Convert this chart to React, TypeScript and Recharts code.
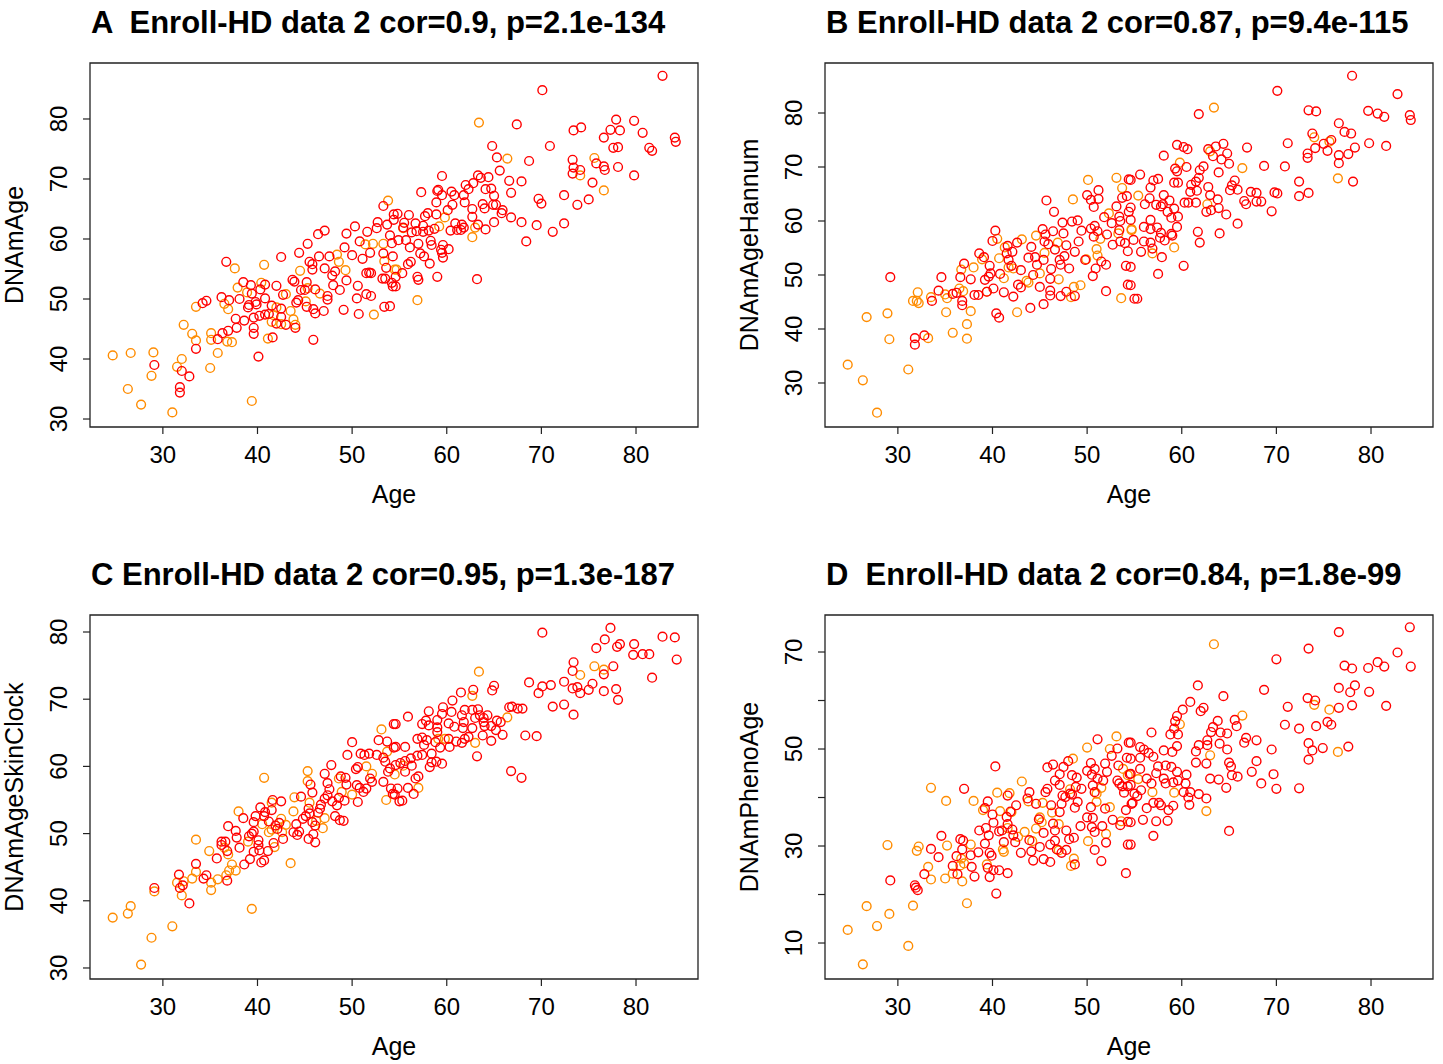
import { ScatterChart, Scatter, XAxis, YAxis, Label, ReferenceArea } from "recharts";

const FONT = "'Liberation Sans', Arial, Helvetica, sans-serif";
const RED = "#ff0000";
const ORANGE = "#ff8c00";

const ageTicks = [30, 40, 50, 60, 70, 80];
const ageDomain: [number, number] = [22.3, 86.55];

// A: DNAmAge
const aRed = [
  [29.1,39.0],[32.0,38.0],[31.8,35.3],[31.8,34.4],[32.8,37.1],[33.5,41.7],[34.2,49.3],[34.6,49.7],[35.8,43.3],[36.3,44.3],[36.9,44.7],[36.2,50.3],[36.7,56.2],[37.0,49.8],[37.7,46.7],[37.8,45.2],[38.1,50.0],[38.6,46.4],[38.5,52.8],[39.3,52.3],[39.4,50.9],[39.1,49.0],[39.0,48.6],[39.6,46.9],[39.6,45.2],[39.6,44.2],[40.1,40.4],[39.8,49.5],[39.9,49.1],[40.3,51.6],[40.8,52.4],[40.8,50.1],[40.2,47.2],[40.8,47.4],[41.2,47.5],[42.0,45.9],[41.6,43.6],[41.5,48.9],[42.5,48.4],[42.5,47.0],[43.0,45.7],[44.0,45.2],[42.0,52.2],[42.5,57.0],[42.7,50.7],[43.7,53.2],[43.9,52.9],[44.1,49.4],[44.3,49.8],[44.4,57.7],[45.2,48.7],[44.6,51.5],[45.0,51.5],[45.2,52.8],[45.3,59.2],[45.9,43.2],[45.9,48.3],[46.1,47.6],[46.1,51.6],[45.5,56.2],[45.8,55.8],[45.8,54.9],[46.4,60.8],[47.1,61.4],[46.5,57.1],[47.0,48.0],[47.1,55.1],[47.4,50.5],[47.4,49.9],[47.6,57.1],[47.9,53.9],[48.0,52.3],[48.2,54.6],[48.7,51.5],[49.1,48.2],[49.2,58.6],[49.4,53.1],[49.4,60.9],[50.3,62.1],[50.0,57.3],[50.5,50.1],[50.6,52.2],[50.7,47.5],[50.8,59.6],[51.1,56.7],[51.6,61.2],[51.9,57.7],[51.5,54.3],[51.8,54.4],[52.0,54.3],[51.5,50.8],[52.0,50.5],[52.6,61.8],[52.7,62.8],[53.3,65.5],[53.7,62.4],[54.0,60.6],[53.4,48.7],[54.0,48.8],[53.3,57.6],[53.6,55.2],[53.5,53.4],[53.2,53.4],[54.2,52.7],[54.3,52.1],[54.4,64.1],[54.4,63.2],[54.2,59.3],[54.3,57.1],
  [82.8,87.2],[70.1,84.8],[67.4,79.1],[64.8,75.5],[70.9,75.5],[65.3,73.6],[68.7,73.0],[65.6,71.4],[66.6,69.7],[67.9,69.6],[66.8,67.7],[59.5,70.5],[63.3,70.6],[63.6,70.2],[64.4,70.3],[62.8,69.3],[62.0,69.0],[62.3,68.3],[64.1,68.3],[64.7,68.4],[65.0,67.2],[59.1,68.2],[59.0,68.0],[59.5,67.3],[60.5,67.9],[60.8,67.3],[61.8,67.3],[61.9,66.1],[57.3,67.8],[58.9,66.1],[60.6,65.7],[60.1,64.8],[62.7,65.0],[63.8,65.8],[64.0,65.1],[64.9,65.7],[65.2,65.7],[65.9,64.8],[65.8,64.3],[62.7,63.7],[66.8,63.6],[67.9,62.8],[65.0,62.8],[64.1,61.6],[63.3,62.4],[63.2,53.3],[69.7,66.7],[70.0,65.9],[69.5,62.3],[71.2,61.2],[68.4,59.6],[72.4,62.6],[72.4,67.3],[73.8,65.7],[75.0,66.6],[75.4,69.4],[73.3,73.2],[73.4,71.9],[73.3,70.9],[74.1,71.5],[75.8,72.6],[76.6,72.1],[76.7,71.5],[78.1,72.0],[79.8,70.6],[73.4,78.1],[74.2,78.6],[76.6,76.9],[77.3,78.2],[77.9,79.9],[78.3,78.1],[77.6,75.2],[78.1,75.3],[79.8,79.7],[80.7,77.7],[81.4,75.2],[81.7,74.7],[84.1,76.9],[84.2,76.2],
  [54.8,64.2],[56.0,64.0],[55.5,62.7],[55.4,61.9],[56.3,61.1],[56.7,62.6],[57.5,62.2],[57.7,63.8],[58.0,64.3],[58.9,64.1],[57.5,61.2],[56.8,61.3],[58.1,61.4],[58.7,61.7],[60.4,61.4],[60.9,62.6],[61.1,61.5],[61.5,61.5],[61.6,62.4],[61.8,61.9],[54.9,59.8],[55.7,59.8],[56.1,58.6],[57.0,59.2],[58.3,59.7],[58.4,59.0],[59.6,59.0],[60.2,58.3],[59.4,58.2],[59.5,57.7],[59.6,56.9],[57.2,57.6],[57.6,57.1],[58.2,55.9],[55.9,55.8],[56.2,56.2],[55.3,54.3],[54.6,53.7],[56.9,53.7],[57.0,53.2],[59.0,53.7],[54.6,52.1],
];
const aOrange = [
  [24.7,40.6],[26.3,35.0],[26.6,41.0],[27.7,32.4],[29.0,41.1],[28.8,37.2],[31.0,31.1],[31.5,38.7],[32.0,40.0],[32.2,45.7],[33.1,44.2],[33.5,43.1],[33.5,48.7],[35.0,38.5],[35.1,44.3],[35.1,43.2],[35.8,41.0],[36.8,42.9],[37.3,42.8],[36.5,49.2],[36.9,48.3],[37.6,55.1],[37.9,51.9],[38.9,51.1],[39.4,33.0],[40.4,52.7],[40.7,55.7],[41.7,47.3],[41.5,46.2],[41.1,43.4],[42.0,48.6],[42.5,45.8],[43.5,48.0],[43.8,46.6],[44.0,45.7],[43.0,50.8],[44.5,54.7],[45.3,51.8],[45.1,49.6],[46.6,50.9],[48.4,57.4],[48.6,56.2],[49.3,54.8],[51.4,59.1],[52.2,59.2],[52.3,47.4],[53.8,66.4],[53.3,59.2],[53.4,56.3],[54.5,54.9],
  [63.4,79.4],[66.4,73.4],[63.0,61.9],[62.7,60.3],[76.6,68.1],[74.1,70.6],[75.6,73.5],[55.4,61.8],[59.8,63.6],[59.2,62.1],[54.7,54.9],[56.9,49.8],
];

// B: DNAmAgeHannum
const bRed = [
  [29.2,49.6],[31.8,38.3],[31.8,37.1],[32.8,38.8],[33.6,45.2],[34.3,47.1],[34.6,49.6],[35.8,46.5],[36.2,46.7],[36.6,49.6],[37.0,52.1],[36.8,45.2],[36.8,44.4],[37.7,49.2],[38.1,46.3],[38.5,46.3],[38.6,54.0],[39.1,53.3],[39.4,46.9],[39.2,49.1],[39.6,49.7],[39.7,51.7],[39.8,50.3],[40.1,47.5],[40.0,56.3],[40.3,58.2],[40.4,42.9],[40.7,42.1],[40.8,50.2],[41.2,46.8],[41.6,55.4],[41.5,54.0],[41.7,52.8],[42.0,51.7],[42.1,54.3],[42.6,56.0],[43.0,50.9],[42.2,46.0],[42.7,48.2],[43.0,47.7],[44.0,43.9],[44.1,55.2],[43.8,53.2],[44.3,50.0],[44.5,53.3],[44.7,51.9],[45.0,47.8],[45.4,44.6],[45.3,58.5],[45.6,57.5],[45.5,56.2],[45.4,52.8],[45.7,63.8],[45.9,55.7],[46.2,51.1],[46.1,49.3],[46.1,47.1],[46.1,46.2],[46.4,58.1],[46.5,61.7],[46.6,54.7],[47.1,52.8],[47.2,51.9],[47.2,46.1],[47.4,59.7],[47.5,57.7],[47.6,53.5],[47.8,46.9],[48.7,46.1],[48.1,51.2],[47.8,55.5],[48.4,59.9],[49.0,60.1],[48.7,54.3],[49.1,56.2],[49.4,58.2],[50.0,64.8],[50.4,63.9],[50.7,62.6],[51.2,65.7],[51.2,64.1],[50.4,58.6],[50.8,59.1],[51.1,58.1],[50.7,57.1],[51.5,52.5],[52.0,51.9],[50.9,51.2],[50.6,49.8],[49.8,52.8],[52.0,47.0],[51.8,60.7],[52.1,57.5],[52.6,59.6],[52.7,55.6],[53.1,62.7],[54.4,67.7],[53.7,64.3],[54.2,64.6],[53.4,60.8],[53.5,60.0],[53.5,56.2],[53.4,58.3],[54.0,55.9],[54.3,54.4],[54.1,51.7],[54.3,48.2],[55.0,45.6],[54.4,61.7],[54.6,60.2],
  [78.0,86.9],[70.1,84.1],[61.8,79.8],[73.4,80.5],[74.2,80.3],[79.7,80.4],[80.7,79.9],[81.4,79.3],[82.8,83.5],[84.1,79.6],[84.2,78.7],[76.6,78.1],[77.2,76.5],[77.9,76.2],[73.8,76.2],[75.8,75.0],[75.0,74.3],[75.4,73.0],[74.1,73.5],[73.3,72.5],[73.3,71.7],[76.6,72.2],[76.6,70.7],[77.6,72.4],[78.3,73.6],[79.8,74.4],[81.6,73.9],[78.1,67.3],[71.2,74.4],[70.9,70.1],[68.7,70.2],[72.4,67.3],[72.4,64.6],[73.4,65.2],[69.8,65.3],[70.1,65.1],[69.5,61.8],[66.9,73.6],[59.5,74.1],[60.2,73.7],[60.6,73.3],[62.8,73.3],[63.6,73.8],[64.4,74.3],[64.8,72.5],[65.0,70.6],[63.3,72.0],[64.2,71.4],[58.1,72.1],[60.5,70.0],[59.3,69.7],[59.5,69.2],[62.3,70.1],[61.9,69.4],[63.9,69.0],[61.8,68.0],[61.5,67.3],[61.0,66.7],[60.9,65.4],[61.6,65.6],[62.8,66.3],[63.0,64.8],[63.8,64.0],[65.6,67.5],[65.3,66.6],[65.1,65.7],[65.9,65.8],[67.3,65.4],[67.9,65.2],[67.9,63.6],[68.4,63.6],[66.6,63.7],[66.8,63.1],[64.7,61.2],[65.9,59.5],[64.0,57.7],[63.9,62.4],[63.1,62.0],[62.6,61.7],[60.3,63.4],[60.7,63.4],[61.5,63.4],[61.7,58.0],[61.9,56.0],[60.2,51.7],
  [55.6,68.6],[57.0,67.5],[57.5,67.8],[56.7,66.2],[59.2,67.1],[59.6,67.1],[58.1,64.8],[58.7,63.8],[59.2,62.3],[58.5,61.7],[57.8,62.7],[58.0,63.1],[57.3,63.0],[56.6,64.2],[56.1,63.1],[54.6,62.5],[54.6,67.6],[58.9,60.6],[59.6,60.8],[56.7,60.2],[56.0,58.9],[56.7,58.5],[57.4,58.8],[57.8,57.8],[57.7,56.9],[58.9,57.6],[59.0,57.3],[59.5,58.9],[58.2,56.4],[56.7,56.0],[56.0,56.2],[54.9,56.5],[55.7,54.3],[56.9,54.9],[57.9,53.3],[57.5,50.2],[54.6,51.5],[54.6,48.1],[55.3,45.6],
];
const bOrange = [
  [24.7,33.4],[26.3,30.5],[27.8,24.5],[26.7,42.2],[28.9,42.9],[29.1,38.1],[31.1,32.5],[31.6,45.2],[32.1,46.8],[32.0,45.2],[32.2,44.8],[33.2,38.3],[33.5,45.9],[35.0,46.4],[35.2,45.7],[35.1,43.1],[35.8,39.3],[36.5,47.5],[36.9,47.0],[36.7,51.0],[37.3,40.9],[37.3,38.2],[37.7,43.3],[38.0,51.4],[38.9,52.9],[39.4,46.9],[40.5,56.7],[40.7,53.1],[41.2,49.4],[41.3,55.1],[41.7,51.4],[42.2,51.2],[43.1,56.6],[42.6,43.1],[43.6,48.9],[43.8,48.6],[44.6,57.3],[45.0,50.3],[45.5,54.1],[46.9,56.0],[47.0,49.2],[48.3,45.9],[48.6,47.8],[49.3,48.1],[48.5,64.0],[50.1,67.6],[51.0,54.8],[51.1,53.6],[49.9,52.9],[51.4,56.7],[52.3,61.4],[53.1,68.0],[53.7,66.1],[53.3,57.7],[53.6,45.7],[54.7,58.3],
  [63.4,81.0],[74.0,75.5],[75.6,74.7],[76.5,67.9],[66.4,69.8],[63.0,72.9],[59.8,70.8],[62.7,63.1],[55.4,64.7],[54.7,58.5],[56.9,54.0],[59.2,55.1],
];

// C: DNAmAgeSkinClock
const cRed = [
  [29.1,41.9],[32.8,39.6],[31.7,43.9],[31.8,41.9],[32.1,42.3],[33.5,45.5],[34.3,43.3],[34.6,43.8],[35.7,46.3],[36.2,48.8],[36.6,48.8],[36.2,48.3],[36.8,47.4],[36.8,43.0],[36.9,51.1],[37.7,50.4],[37.8,49.4],[38.5,52.3],[38.1,47.9],[38.6,45.4],[39.2,46.2],[39.6,47.3],[39.1,49.6],[39.4,50.0],[39.6,50.3],[39.6,51.7],[39.8,52.6],[40.1,49.0],[40.1,48.3],[40.2,47.5],[40.4,45.7],[40.7,46.0],[40.3,53.9],[40.8,53.2],[40.7,52.6],[41.2,51.8],[41.5,53.5],[41.6,55.0],[41.1,47.4],[41.7,48.6],[41.9,51.2],[42.1,50.7],[42.3,51.6],[42.5,54.8],[42.7,49.2],[43.8,50.2],[44.2,49.8],[44.4,50.3],[44.6,55.5],[44.1,51.4],[44.8,52.2],[45.1,52.6],[45.6,57.3],[45.8,56.1],[45.4,53.7],[45.5,53.0],[45.4,49.2],[45.9,49.9],[46.1,48.7],[45.8,51.7],[46.1,51.2],[46.6,53.7],[46.4,53.1],[46.7,54.3],[47.1,55.2],[47.1,58.9],[47.4,57.5],[47.6,56.6],[47.4,55.7],[47.8,60.2],[47.9,54.8],[48.4,54.2],[48.6,55.3],[48.2,52.6],[48.8,58.5],[49.3,58.3],[49.4,57.3],[48.7,52.0],[49.1,51.9],[49.2,54.9],[50.0,63.6],[49.5,61.7],[50.4,59.6],[50.6,59.9],[50.5,57.2],[50.8,56.8],[50.9,61.9],[51.3,61.7],[50.6,54.7],[51.8,61.9],[51.2,56.2],[51.5,56.7],[52.1,57.7],[51.9,58.2],[52.6,61.7],[52.8,63.9],[54.4,66.3],[53.7,63.7],[53.3,61.3],[53.5,60.7],[54.4,62.8],[54.0,59.7],[53.8,59.2],[53.3,57.7],[54.3,55.9],[54.1,56.7],[54.6,60.2],[55.0,54.8],
  [70.1,79.9],[77.3,80.6],[76.7,78.9],[75.8,77.6],[78.0,77.8],[78.3,78.2],[79.8,78.2],[79.7,76.6],[80.7,76.7],[81.4,76.7],[82.8,79.3],[84.1,79.2],[84.3,75.9],[81.7,73.2],[76.6,73.7],[77.6,74.9],[73.4,75.5],[73.3,74.2],[73.8,71.8],[73.3,71.6],[74.1,70.9],[75.0,71.4],[75.4,72.3],[76.6,71.2],[77.9,71.5],[78.1,69.9],[72.4,72.6],[72.4,69.2],[73.4,67.7],[71.2,68.9],[71.0,72.1],[70.1,71.9],[69.7,70.9],[68.7,72.5],[68.3,64.6],[69.5,64.5],[66.8,59.3],[67.9,58.3],[62.8,71.4],[64.8,71.3],[65.0,72.0],[61.5,71.0],[60.6,69.8],[59.6,68.8],[58.1,68.2],[55.9,67.4],[54.6,66.3],[60.5,68.1],[59.5,67.8],[59.0,66.9],[57.4,66.3],[57.8,66.8],[58.1,66.1],[59.0,65.8],[59.0,65.1],[60.2,66.4],[60.8,65.9],[61.9,68.4],[61.6,67.6],[61.8,66.6],[61.7,65.7],[62.7,68.4],[63.3,68.5],[63.0,67.2],[63.5,67.6],[63.9,67.2],[64.3,67.6],[63.9,66.6],[64.0,66.0],[64.7,66.0],[65.3,66.8],[65.7,66.6],[65.2,65.4],[65.9,64.7],[66.6,68.8],[66.9,68.9],[67.5,68.6],[68.0,68.6],[63.8,64.6],[64.7,63.8],[62.7,65.7],[62.3,64.4],[61.9,64.1],[61.6,63.5],[61.0,63.7],[60.2,64.1],[58.8,63.6],[59.3,62.8],[60.3,62.9],[63.2,61.5],
  [56.9,64.1],[57.4,64.3],[57.9,63.9],[57.6,63.2],[55.6,62.9],[54.6,62.9],[57.4,61.7],[58.4,61.9],[56.9,61.6],[56.2,61.2],[55.6,60.8],[55.1,60.5],[56.3,60.1],[58.4,60.6],[58.2,59.9],[58.9,60.7],[59.5,60.4],[55.6,59.2],[56.7,58.2],[57.0,58.5],[55.9,56.8],[56.5,55.9],[54.8,56.7],[54.5,55.8],[55.3,54.9],
];
const cOrange = [
  [24.7,37.5],[26.3,38.1],[26.6,39.2],[27.7,30.5],[28.8,34.5],[29.1,41.4],[31.0,36.2],[31.5,42.7],[32.0,40.8],[32.2,42.9],[33.1,43.3],[33.5,44.3],[33.5,49.1],[35.1,41.6],[35.1,42.7],[34.9,47.4],[35.8,43.2],[36.5,47.9],[36.9,46.9],[36.7,43.8],[37.0,44.5],[37.3,45.4],[37.7,44.5],[38.0,53.3],[39.0,48.8],[39.4,38.8],[40.5,51.4],[40.7,58.3],[41.5,54.6],[41.2,50.2],[41.8,48.0],[41.5,50.6],[42.5,52.2],[42.6,50.2],[43.0,51.3],[43.5,45.6],[43.8,53.3],[43.9,55.4],[45.3,59.3],[45.3,57.8],[45.5,54.6],[46.2,51.9],[46.9,50.8],[47.1,52.3],[48.6,58.2],[48.9,56.2],[50.0,55.8],[51.5,60.0],[52.1,58.9],[53.1,65.5],[53.7,62.2],[53.6,55.0],
  [75.6,74.9],[76.6,74.4],[74.1,73.6],[63.4,74.1],[62.7,70.5],[66.4,67.3],[59.8,64.1],[59.1,64.1],[63.0,63.5],[55.4,60.1],[54.5,58.8],[57.0,56.8],
];

// D: DNAmPhenoAge
const dRed = [
  [29.2,22.9],[31.8,21.9],[31.9,21.4],[32.1,20.9],[33.5,29.4],[32.8,24.2],[34.3,27.7],[34.6,32.1],[35.8,25.9],[36.2,27.9],[36.3,24.2],[36.6,31.4],[36.9,31.1],[36.8,29.3],[37.0,41.8],[37.7,28.1],[37.8,25.7],[38.1,23.7],[38.5,28.7],[38.6,33.2],[39.2,30.5],[39.2,37.8],[39.3,33.7],[39.5,25.5],[39.7,23.6],[39.7,28.6],[39.9,28.0],[39.6,32.2],[39.5,39.2],[40.0,36.5],[40.1,34.8],[40.1,25.0],[40.3,46.4],[40.4,20.2],[40.7,25.0],[40.7,33.0],[41.0,33.2],[41.2,30.8],[41.5,36.0],[41.6,34.5],[41.6,24.4],[41.6,40.4],[41.9,37.1],[42.1,33.4],[42.4,30.8],[42.2,32.2],[42.5,38.4],[43.0,28.6],[43.7,39.8],[43.9,41.1],[43.9,31.2],[44.1,28.9],[44.3,27.0],[44.6,38.7],[44.9,35.5],[45.0,29.8],[45.4,27.3],[45.4,32.7],[45.6,41.1],[45.8,41.8],[45.8,46.2],[46.4,46.8],[46.1,26.7],[46.1,30.3],[46.2,38.4],[46.4,34.6],[46.6,33.2],[46.6,31.1],[46.8,29.3],[47.3,28.6],[47.8,29.2],[47.1,37.0],[47.3,38.7],[47.4,40.4],[47.7,40.1],[47.1,42.6],[46.6,43.5],[47.1,44.8],[47.5,46.3],[48.0,47.5],[48.4,44.6],[48.4,40.6],[48.2,40.8],[48.9,44.1],[48.8,42.2],[49.4,41.8],[49.0,39.1],[48.7,37.9],[49.3,34.1],[47.8,33.2],[48.1,31.4],[48.6,31.7],[48.7,26.2],[51.1,52.0],[50.4,47.1],[50.0,45.5],[50.8,45.9],[50.5,44.7],[51.1,43.9],[51.7,43.5],[51.9,47.0],[52.1,45.3],[50.6,42.5],[50.8,41.1],[50.4,38.0],[50.0,35.9],[50.6,35.8],[50.5,33.9],[50.8,32.9],[51.6,34.1],[51.9,37.7],[52.0,30.7],[50.8,29.2],[51.5,26.9],[52.7,35.4],[53.2,50.1],[54.4,51.3],[52.6,48.6],[54.2,48.2],[53.3,46.6],[54.5,44.8],[53.2,43.5],[53.4,42.9],[53.7,42.3],[54.3,42.3],[53.9,41.0],[54.7,38.7],[54.1,37.4],[53.5,34.3],[54.3,35.0],[54.3,30.3],[54.1,24.4],
  [84.1,75.1],[76.6,74.1],[73.4,70.7],[70.0,68.5],[82.8,69.9],[80.7,67.9],[81.4,67.0],[79.7,66.7],[77.2,67.2],[78.0,66.6],[84.2,67.0],[61.7,63.1],[64.4,60.9],[68.7,62.2],[76.6,62.6],[77.8,61.7],[78.3,63.1],[79.8,61.8],[73.3,60.5],[74.1,60.0],[76.6,58.5],[78.0,59.0],[81.6,58.9],[71.2,58.7],[70.9,55.0],[72.4,54.2],[74.2,54.7],[75.4,55.6],[75.8,55.0],[73.4,51.2],[73.8,49.7],[74.9,50.2],[77.6,50.5],[73.4,47.8],[69.5,49.9],[69.7,44.8],[70.0,41.8],[72.4,41.9],[68.4,42.9],[67.4,45.3],[67.9,47.5],[67.9,51.8],[66.8,52.3],[66.6,51.3],[65.6,56.0],[65.8,54.7],[63.8,55.8],[63.3,54.5],[63.1,53.5],[64.1,53.4],[64.8,53.2],[64.0,51.1],[64.8,49.9],[65.0,47.2],[65.2,46.4],[65.3,44.6],[65.9,44.3],[64.7,42.0],[63.9,43.7],[63.0,43.9],[62.7,51.8],[62.7,50.8],[62.6,47.0],[61.8,50.8],[61.5,49.5],[61.5,47.2],[60.9,59.7],[60.1,58.1],[62.0,57.8],[62.3,58.5],[59.5,56.8],[59.3,55.7],[59.2,54.2],[58.8,53.0],[59.6,53.0],[56.8,53.4],[59.5,50.6],[59.0,49.4],[58.1,49.7],
  [55.6,50.4],[56.0,49.9],[56.5,49.2],[57.0,48.4],[55.6,48.2],[54.6,51.3],[54.6,48.0],[57.5,46.4],[58.3,46.6],[58.9,46.3],[59.5,45.3],[55.6,45.9],[57.3,45.0],[56.3,43.9],[58.1,43.9],[58.3,42.9],[59.1,43.1],[59.6,43.5],[60.5,44.7],[60.4,42.9],[56.8,42.9],[54.6,44.9],[54.6,42.6],[55.0,40.8],[55.7,41.5],[54.8,38.9],[55.3,40.3],[60.2,41.1],[60.9,41.1],[60.7,40.0],[61.8,40.7],[62.6,39.8],[60.8,38.5],[57.0,38.9],[57.6,38.9],[57.8,38.4],[56.3,37.8],[59.1,38.3],[58.6,37.4],[55.9,35.4],[57.3,35.1],[58.5,35.2],[54.6,34.9],[57.0,32.1],[54.6,30.3],[65.0,33.1],
];
const dOrange = [
  [24.7,12.7],[26.3,5.6],[26.7,17.6],[27.8,13.5],[29.1,16.0],[28.9,30.2],[31.1,9.4],[31.6,17.7],[32.0,29.0],[32.2,29.9],[33.5,42.0],[33.2,25.7],[33.5,23.1],[35.1,39.3],[35.2,30.1],[35.0,23.3],[35.8,24.3],[36.6,26.0],[36.7,27.4],[36.8,22.7],[37.0,26.4],[37.3,18.2],[37.7,30.3],[38.0,39.3],[39.0,37.4],[39.4,26.2],[40.8,37.2],[40.5,41.0],[41.1,29.3],[41.2,28.8],[41.6,33.7],[41.8,40.9],[42.0,37.0],[42.7,31.9],[43.1,43.3],[43.8,39.2],[44.2,31.0],[43.4,32.9],[44.6,33.6],[45.0,35.9],[45.2,34.9],[45.3,38.9],[46.3,36.9],[47.0,34.5],[47.0,29.1],[48.5,48.0],[48.2,41.7],[48.6,27.4],[48.3,25.9],[50.0,50.3],[51.0,40.8],[51.5,42.0],[51.0,39.1],[52.4,38.0],[52.0,32.5],[50.1,31.0],[52.4,50.0],[53.1,52.6],[53.8,45.9],[54.3,44.6],[53.6,35.1],
  [63.4,71.6],[74.0,59.1],[75.6,58.1],[76.5,49.4],[66.4,56.9],[63.0,48.7],[59.8,55.1],[55.4,43.8],[56.9,41.1],[59.2,41.0],[62.6,37.2],
];

const toPoints = (rows: number[][]) => rows.map(([age, dnam]) => ({ age, dnam }));

const ring = (color: string) => (props: any) => (
  <circle cx={props.cx} cy={props.cy} r={4.4} fill="none" stroke={color} strokeWidth={1.4} />
);

const YTick = (props: any) => {
  const { x, y, payload, shown } = props;
  if (!shown.includes(payload.value)) return null;
  return (
    <text transform={`translate(${x},${y}) rotate(-90)`} textAnchor="middle" fontSize={24} fill="#000" fontFamily={FONT}>
      {payload.value}
    </text>
  );
};

type PanelProps = {
  left: number;
  top: number;
  title: string;
  yLabel: string;
  red: number[][];
  orange: number[][];
  yDomain: [number, number];
  yTicks: number[];
  yShown: number[];
};

const Panel = ({ left, top, title, yLabel, red, orange, yDomain, yTicks, yShown }: PanelProps) => (
  <div style={{ position: "absolute", left, top, width: 708, height: 512 }}>
    <ScatterChart width={708} height={512} margin={{ top: 63, right: 10, bottom: 25, left: 30 }}>
      <XAxis
        dataKey="age"
        type="number"
        domain={ageDomain}
        ticks={ageTicks}
        allowDataOverflow
        axisLine={false}
        tickSize={7}
        tickMargin={12}
        tickLine={{ stroke: "#222", strokeWidth: 1.2 }}
        tick={{ fontSize: 24, fill: "#000", fontFamily: FONT }}
        height={60}
      >
        <Label
          content={(p: any) => (
            <text x={p.viewBox.x + p.viewBox.width / 2} y={p.viewBox.y + 76} textAnchor="middle" fontSize={25} fill="#000" fontFamily={FONT}>
              Age
            </text>
          )}
        />
      </XAxis>
      <YAxis
        dataKey="dnam"
        type="number"
        domain={yDomain}
        ticks={yTicks}
        allowDataOverflow
        axisLine={false}
        width={60}
        tickSize={7}
        tickMargin={16}
        tickLine={{ stroke: "#222", strokeWidth: 1.2 }}
        tick={(p: any) => <YTick {...p} shown={yShown} />}
      >
        <Label
          content={(p: any) => (
            <text
              transform={`translate(${p.viewBox.x - 7},${p.viewBox.y + p.viewBox.height / 2}) rotate(-90)`}
              textAnchor="middle"
              fontSize={25}
              fill="#000"
              fontFamily={FONT}
            >
              {yLabel}
            </text>
          )}
        />
      </YAxis>
      <ReferenceArea
        x1={ageDomain[0]}
        x2={ageDomain[1]}
        y1={yDomain[0]}
        y2={yDomain[1]}
        fill="none"
        stroke="#222"
        strokeWidth={1.3}
        ifOverflow="visible"
      />
      <Scatter data={toPoints(orange)} shape={ring(ORANGE)} isAnimationActive={false} />
      <Scatter data={toPoints(red)} shape={ring(RED)} isAnimationActive={false} />
    </ScatterChart>
    <svg width={708} height={60} style={{ position: "absolute", left: 0, top: 0, pointerEvents: "none" }}>
      <text x={91} y={33} fontSize={31} fontWeight="bold" fill="#000" fontFamily={FONT} style={{ whiteSpace: "pre" }}>
        {title}
      </text>
    </svg>
  </div>
);

const tens = [30, 40, 50, 60, 70, 80];
const phenoTicks = [10, 20, 30, 40, 50, 60, 70];
const phenoShown = [10, 30, 50, 70];

export default function App() {
  return (
    <div style={{ position: "absolute", left: 0, top: 0, width: 1443, height: 1064, overflow: "hidden", background: "#fff" }}>
      <Panel left={0} top={0} title="A  Enroll-HD data 2 cor=0.9, p=2.1e-134" yLabel="DNAmAge" red={aRed} orange={aOrange} yDomain={[28.67, 89.33]} yTicks={tens} yShown={tens} />
      <Panel left={735} top={0} title="B Enroll-HD data 2 cor=0.87, p=9.4e-115" yLabel="DNAmAgeHannum" red={bRed} orange={bOrange} yDomain={[21.85, 89.26]} yTicks={tens} yShown={tens} />
      <Panel left={0} top={552} title="C Enroll-HD data 2 cor=0.95, p=1.3e-187" yLabel="DNAmAgeSkinClock" red={cRed} orange={cOrange} yDomain={[28.36, 82.53]} yTicks={tens} yShown={tens} />
      <Panel left={735} top={552} title="D  Enroll-HD data 2 cor=0.84, p=1.8e-99" yLabel="DNAmPhenoAge" red={dRed} orange={dOrange} yDomain={[2.58, 77.63]} yTicks={phenoTicks} yShown={phenoShown} />
    </div>
  );
}
